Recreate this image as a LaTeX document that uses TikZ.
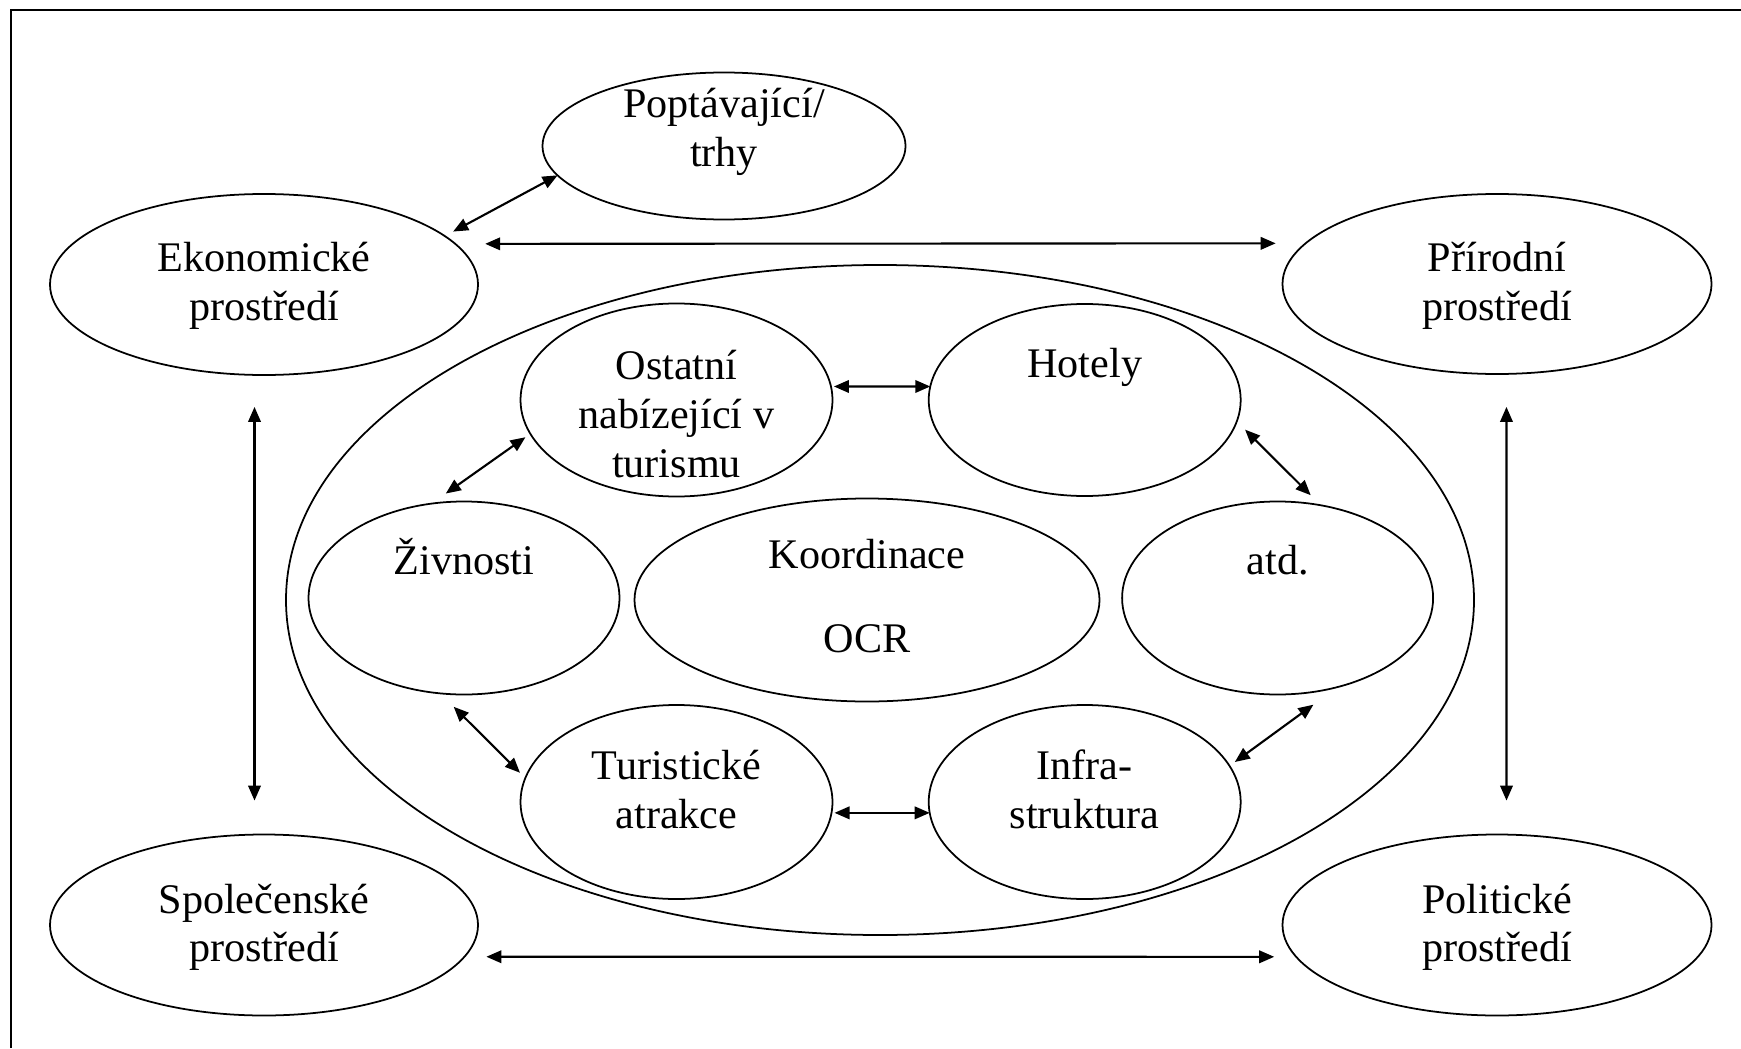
\documentclass[tikz,border=0pt]{standalone}
\usepackage{fontspec}
\setmainfont{Liberation Serif}
\usetikzlibrary{shapes.geometric,arrows.meta}

\begin{document}
\begin{tikzpicture}[
   oval/.style={draw, ellipse, line width=0.5pt, inner sep=0pt, outer sep=0pt},
   txt/.style={align=center, anchor=base, inner sep=0pt, font=\fontsize{12}{13.8}\selectfont},
   link/.style={{Triangle[length=1.5mm,width=1.25mm]}-{Triangle[length=1.5mm,width=1.25mm]}, line width=0.6pt}
]
   \useasboundingbox (0,0) rectangle (17.41,-10.48);
   \draw[line width=0.8pt] (0.11,-10.48) -- (0.11,-0.10) -- (17.41,-0.10);
   % okoli
   \node[oval, minimum width=11.88cm, minimum height=6.70cm] (big) at (8.80,-6.00) {};
   \foreach \n/\x/\y/\w/\h in {popt/7.24/-1.46/3.63/1.47, eko/2.64/-2.845/4.28/1.81,
      pri/14.97/-2.84/4.29/1.80, spo/2.64/-9.25/4.28/1.81, pol/14.97/-9.25/4.29/1.81}
      \node[oval, minimum width=\w cm, minimum height=\h cm] (\n) at (\x,\y) {};
   % uvnitr
   \foreach \n/\x/\y/\w/\h in {ost/6.765/-4.00/3.12/1.93, hot/10.847/-4.00/3.12/1.92,
      ziv/4.64/-5.98/3.11/1.93, koo/8.67/-6.00/4.65/2.03, atd/12.776/-5.98/3.11/1.93,
      tur/6.765/-8.02/3.12/1.94, inf/10.847/-8.02/3.12/1.94}
      \node[oval, minimum width=\w cm, minimum height=\h cm] (\n) at (\x,\y) {};
   % texty (base = posledni radek)
   \node[txt] (poptT) at (7.24,-1.66) {Poptávající/\\trhy};
   \node[txt] (ekoT) at (2.64,-3.20) {Ekonomické\\prostředí};
   \node[txt] (priT) at (14.97,-3.20) {Přírodní\\prostředí};
   \node[txt] (spoT) at (2.64,-9.615) {Společenské\\prostředí};
   \node[txt] (polT) at (14.97,-9.615) {Politické\\prostředí};
   \node[txt] (ostT) at (6.765,-4.77) {Ostatní\\nabízející v\\turismu};
   \node[txt] (hotT) at (10.847,-3.77) {Hotely};
   \node[txt] (zivT) at (4.64,-5.74) {Živnosti};
   \node[txt] (kooT) at (8.67,-6.52) {Koordinace\\[10pt]OCR};
   \node[txt] (atdT) at (12.776,-5.74) {atd.};
   \node[txt] (turT) at (6.765,-8.28) {Turistické\\atrakce};
   \node[txt] (infT) at (10.847,-8.28) {Infra-\\struktura};
   % vazby
   \draw[link, shorten <=0.095cm] (eko.15) -- (popt.190);
   \draw[link, shorten <=0.3cm, shorten >=0.3cm] (eko.12) -- (pri.168);
   \draw[link, shorten <=0.22cm, shorten >=0.22cm] (spo.-9) -- (pol.189);
   \draw[link, shorten <=0.32cm, shorten >=0.34cm] (eko.-96) -- (spo.96);
   \draw[link, shorten <=0.33cm, shorten >=0.34cm] (pri.-84) -- (pol.84);
   \draw[link, shorten <=0.03cm] (ost.5) -- (hot.175);
   \draw[link, shorten <=0.03cm] (tur.-4) -- (inf.184);
   \draw[link, shorten <=0.06cm, shorten >=0.175cm] (ost.193) -- (ziv.109);
   \draw[link, shorten <=0.117cm, shorten >=0.143cm] (hot.352) -- (atd.65);
   \draw[link, shorten <=0.19cm, shorten >=0.075cm] (ziv.256) -- (tur.171);
   \draw[link, shorten <=0.066cm, shorten >=0.30cm] (inf.14) -- (atd.304);
\end{tikzpicture}
\end{document}
